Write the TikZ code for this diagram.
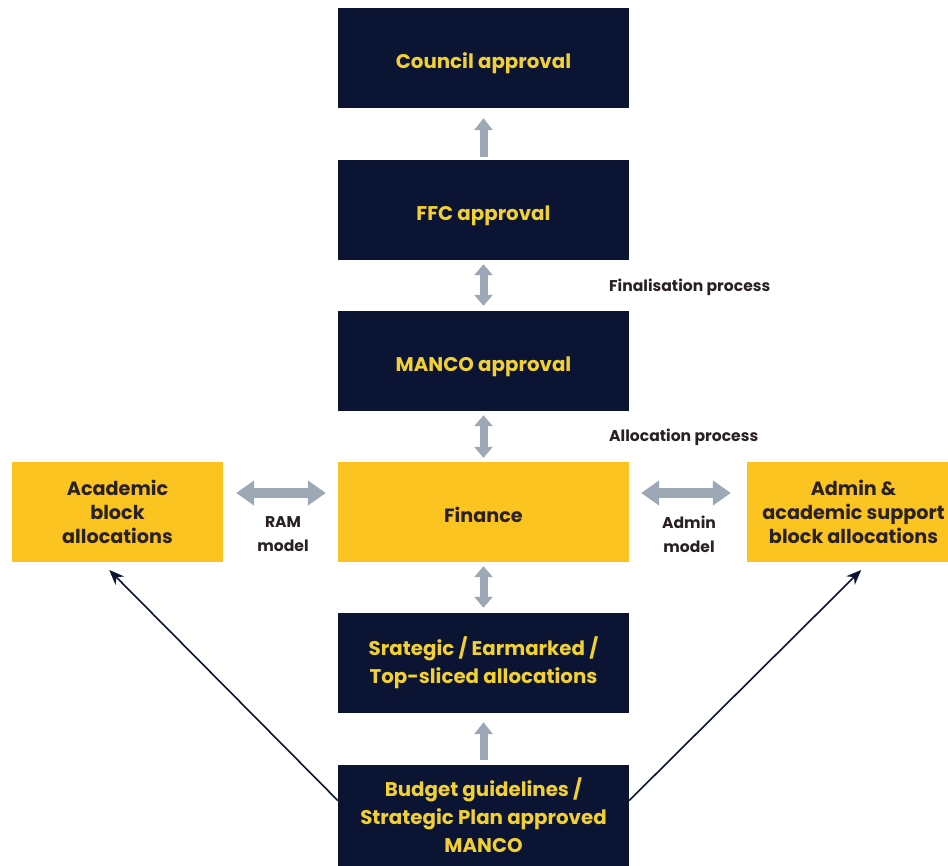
\documentclass[tikz,border=0pt]{standalone}
\usepackage{fontspec}
\setmainfont{Poppins}
\usetikzlibrary{arrows.meta}
\definecolor{navy}{HTML}{0B1533}
\definecolor{gold}{HTML}{FCC420}
\definecolor{goldtext}{HTML}{F2D034}
\definecolor{ink}{HTML}{2A2222}
\definecolor{steel}{HTML}{9DA8B7}
\tikzset{
  navybox/.style={fill=navy, draw=none, minimum width=291pt, minimum height=100pt,
    text=goldtext, font=\fontsize{19.8}{28}\selectfont\bfseries, align=center, inner sep=0pt},
  goldbox/.style={fill=gold, draw=none, minimum height=100pt,
    text=ink, font=\fontsize{19.2}{24}\selectfont\bfseries, align=center, inner sep=0pt},
  oneline/.style={text height=21.5pt, text depth=0pt},
  note/.style={text=ink, font=\fontsize{15.6}{24}\selectfont\bfseries, inner sep=0pt},
  fatv/.style={draw=steel, line width=8pt, -{Triangle[length=12pt,width=18pt]}},
  fatvv/.style={draw=steel, line width=8pt, {Triangle[length=11pt,width=18pt]}-{Triangle[length=11pt,width=18pt]}},
  fath/.style={draw=steel, line width=10pt, {Triangle[length=18pt,width=24pt]}-{Triangle[length=18pt,width=24pt]}},
  thin/.style={draw=navy, line width=1.6pt, -{Stealth[length=15pt,width=12pt]}}
}
\begin{document}
\begin{tikzpicture}[x=1pt, y=-1pt]
\useasboundingbox (0,0) rectangle (948,866);
\fill[white] (0,0) rectangle (948,866);

% central column
\node[navybox, oneline] (council) at (483.5,58) {Council approval};
\node[navybox, oneline] (ffc) at (483.5,210) {FFC approval};
\node[navybox, oneline] (manco) at (483.5,361) {MANCO approval};
\node[goldbox, oneline, minimum width=291pt] (finance) at (483.5,512) {Finance};
\node[navybox] (strategic) at (483.5,663) {Srategic / Earmarked /\\Top-sliced allocations};
\node[navybox, minimum height=101pt] (budget) at (483.5,815.5) {Budget guidelines /\\Strategic Plan approved\\MANCO};

% side blocks (the right one runs past the page edge)
\node[goldbox, minimum width=211pt, text depth=-4pt] (academic) at (117.5,512) {Academic\\block\\allocations};
\node[goldbox, minimum width=213pt, text depth=-4pt] (admin) at (853.5,512) {Admin \&\\academic support\\block allocations};

% process notes
\node[note, anchor=west] (finnote) at (609,287) {Finalisation process};
\node[note, anchor=west] (allocnote) at (609,437) {Allocation process};
\node[note, align=center] (ramnote) at (283,534) {RAM\\model};
\node[note, align=center] (adminnote) at (689,534) {Admin\\model};

% wide grey connectors
\draw[fatv, shorten <=3pt, shorten >=10pt] (ffc.north) -- (council.south);
\draw[fatvv, shorten <=4pt, shorten >=5pt] (ffc.south) -- (manco.north);
\draw[fatvv, shorten <=4pt, shorten >=4pt] (manco.south) -- (finance.north);
\draw[fatvv, shorten <=4pt, shorten >=5pt] (finance.south) -- (strategic.north);
\draw[fatv, shorten <=5pt, shorten >=9pt] (budget.north) -- (strategic.south);
\draw[fath, shorten <=13pt, shorten >=12pt] ([yshift=19pt]academic.east) -- ([yshift=19pt]finance.west);
\draw[fath, shorten <=12pt, shorten >=16pt] ([yshift=19pt]finance.east) -- ([yshift=19pt]admin.west);

% thin dark connectors
\coordinate (bl) at ([yshift=15pt]budget.west);
\coordinate (br) at ([yshift=15pt]budget.east);
\draw[thin, shorten >=11pt] (bl) -- ([xshift=-16pt]academic.south);
\draw[thin, shorten >=11pt] (br) -- ([xshift=15.5pt]admin.south);
\end{tikzpicture}
\end{document}
